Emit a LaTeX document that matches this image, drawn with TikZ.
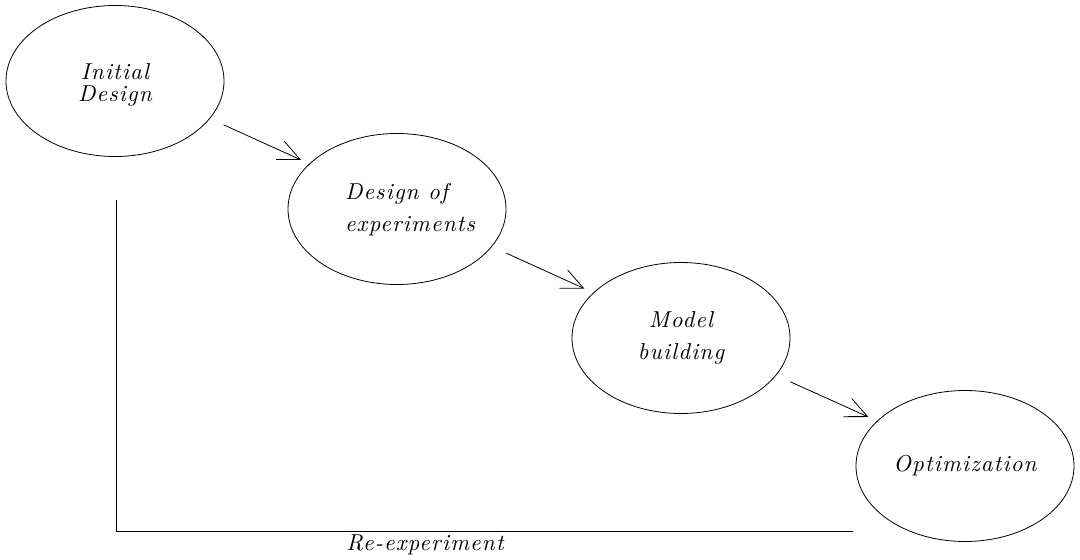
\documentclass[tikz,border=0pt]{standalone}
\usepackage{fontspec}
\usetikzlibrary{arrows.meta,shapes.geometric,calc}
\newfontfamily\lblfam{lmroman10-italic.otf}[LetterSpace=5]
\newcommand{\lblfont}[1]{\fontsize{23}{#1}\selectfont\lblfam}
\begin{document}
\begin{tikzpicture}[x=1pt,y=-1pt,
  stage/.style={ellipse,draw,line width=0.8pt,minimum width=218pt,minimum height=151pt,
    inner sep=0pt,align=center,font=\lblfont{32}},
  arr/.style={line width=0.8pt,-{Straight Barb[length=22pt,width=20pt,line width=0.8pt]}},
  fbline/.style={line width=0.9pt},
  fblabel/.style={font=\lblfont{32},inner sep=0pt,anchor=base}]
\useasboundingbox (0,0) rectangle (1080,560);
% stages
\node[stage,font=\lblfont{21}] (init) at (115,81)
  {\raisebox{-5pt}[\height][\depth]{\begin{tabular}{@{}c@{}}Initial\\Design\end{tabular}}};
\node[stage,align=left] (doe) at (397,209)
  {\makebox[104pt][l]{\begin{tabular}{@{}l@{}}Design of\\experiments\end{tabular}}};
\node[stage] (model) at (681,338) {Model\\building};
\node[stage] (opt) at (965,466) {Optimization};
% forward arrows
\draw[arr] ([yshift=5.5pt]$(init)!0.385!(doe)$) -- ([yshift=5.5pt]$(init)!0.66!(doe)$);
\draw[arr] ([yshift=5.5pt]$(doe)!0.385!(model)$) -- ([yshift=5.5pt]$(doe)!0.66!(model)$);
\draw[arr] ([yshift=5.5pt]$(model)!0.385!(opt)$) -- ([yshift=5.5pt]$(model)!0.66!(opt)$);
% feedback line
\draw[fbline] ([xshift=1pt,yshift=-43pt]init.south) |- ([xshift=-3pt,yshift=-65pt]opt.west);
\node[fblabel] (re) at (425,550) {Re-experiment};
\end{tikzpicture}
\end{document}
